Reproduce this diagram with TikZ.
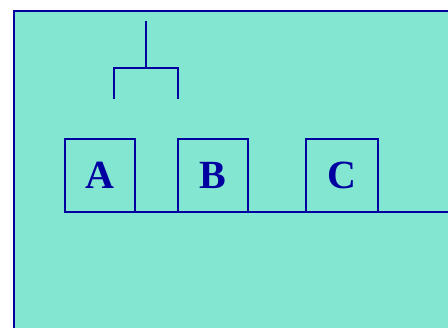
\documentclass[tikz,border=0pt]{standalone}
\usepackage{fontspec}
\setmainfont{Liberation Serif}
\definecolor{bgc}{HTML}{82E6D0}
\definecolor{navy}{HTML}{0000A0}
\begin{document}
\begin{tikzpicture}[x=1pt,y=1pt,
  ln/.style={draw=navy,line width=2.6pt},
  lbox/.style={ln,outer sep=0pt,minimum width=70pt,minimum height=73pt,inner sep=0pt,text=navy,font=\fontsize{40}{40}\selectfont\bfseries}]
\useasboundingbox (0,0) rectangle (448,328);
\clip (0,0) rectangle (448,328);
\fill[white] (0,0) rectangle (448,328);
\filldraw[fill=bgc,draw=navy,line width=2.8pt] (14,-10) rectangle (470,317);
\node[lbox] (A) at (100,152.5) {A};
\node[lbox] (B) at (213,152.5) {B};
\node[lbox,minimum width=72pt] (C) at (342,152.5) {C};
\coordinate (E) at (460,116);
\draw[ln] (A.south west) -- (E);
\coordinate (T) at (146,307);
\coordinate (J) at (146,260);
\coordinate (L) at (114,229);
\coordinate (R) at (178,229);
\draw[ln] (T) -- (J);
\draw[ln] (L) |- (J) -| (R);
\end{tikzpicture}
\end{document}
